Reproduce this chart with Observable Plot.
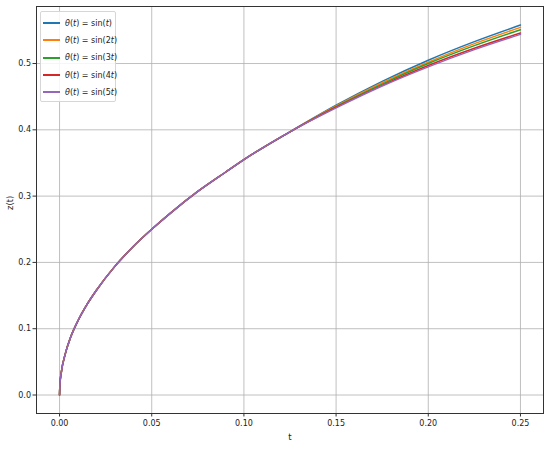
<!DOCTYPE html>
<html>
<head>
<meta charset="utf-8">
<script src="https://cdn.jsdelivr.net/npm/d3@7"></script>
<script src="https://cdn.jsdelivr.net/npm/@observablehq/plot@0.6"></script>
<style>
  body { margin: 0; background: #fff; }
  #wrap { position: relative; width: 550px; height: 449px; font-family: "DejaVu Sans", sans-serif; }
  #legend { position: absolute; left: 40px; top: 11px; width: 76px; height: 91px;
    border: 1px solid #d6d6d6; border-radius: 2px; background: rgba(255,255,255,0.85); box-sizing: border-box; }
  .row { position: absolute; left: 0; height: 12px; display: flex; align-items: center; font-size: 8px; color: #222; white-space: nowrap; }
  .sw { width: 17px; height: 2px; margin-left: 1.5px; margin-right: 5.5px; }
</style>
</head>
<body>
<div id="wrap"><div id="legend"></div></div>
<script>
// Series labels
const seriesNames = ["sin(t)", "sin(2t)", "sin(3t)", "sin(4t)", "sin(5t)"];
const seriesColors = ["#1f77b4", "#ff7f0e", "#2ca02c", "#d62728", "#9467bd"];

// Shared early part of the curves
const tShared = [0, 0.0002, 0.001, 0.003, 0.006, 0.01, 0.015, 0.02, 0.03, 0.04, 0.05, 0.06, 0.075, 0.09, 0.1, 0.125];
const zShared = [0, 0.016, 0.035, 0.061, 0.087, 0.112, 0.137, 0.158, 0.194, 0.224, 0.250, 0.274, 0.307, 0.336, 0.355, 0.397];

// Later part where curves separate slightly
const tLate = [0.15, 0.175, 0.2, 0.225, 0.25];
const zSin1 = [0.437, 0.473, 0.505, 0.533, 0.558];
const zSin2 = [0.436, 0.471, 0.502, 0.530, 0.5545];
const zSin3 = [0.435, 0.469, 0.500, 0.527, 0.551];
const zSin4 = [0.434, 0.467, 0.497, 0.523, 0.546];
const zSin5 = [0.433, 0.466, 0.495, 0.521, 0.544];
const lateValues = [zSin1, zSin2, zSin3, zSin4, zSin5];

const xTicks = [0, 0.05, 0.10, 0.15, 0.20, 0.25];
const yTicks = [0, 0.1, 0.2, 0.3, 0.4, 0.5];

const data = [];
seriesNames.forEach((s, i) => {
  tShared.forEach((t, j) => data.push({series: s, t, z: zShared[j]}));
  tLate.forEach((t, j) => data.push({series: s, t, z: lateValues[i][j]}));
});

const chart = Plot.plot({
  width: 550,
  height: 449,
  marginLeft: 36,
  marginRight: 7,
  marginTop: 6,
  marginBottom: 36,
  style: {fontFamily: "DejaVu Sans, sans-serif", fontSize: "8px", color: "#222", background: "#fff"},
  x: {domain: [-0.0125, 0.2625], label: null},
  y: {domain: [-0.0279, 0.586], label: null},
  color: {domain: seriesNames, range: seriesColors},
  marks: [
    Plot.gridX(xTicks, {stroke: "#b0b0b0", strokeOpacity: 1, strokeWidth: 0.8}),
    Plot.gridY(yTicks, {stroke: "#b0b0b0", strokeOpacity: 1, strokeWidth: 0.8}),
    Plot.line(data, {x: "t", y: "z", z: "series", stroke: "series", strokeWidth: 1.5, curve: "monotone-x"}),
    Plot.frame({stroke: "#333", strokeWidth: 1}),
    Plot.axisX({ticks: xTicks, tickFormat: d3.format(".2f"), tickSize: 3.5, tickPadding: 3, label: null, stroke: "#333"}),
    Plot.axisY({ticks: yTicks, tickFormat: d3.format(".1f"), tickSize: 3.5, tickPadding: 2, label: null, stroke: "#333"}),
    Plot.text(["t"], {frameAnchor: "bottom", dy: 26, fontSize: 8.5, fill: "#222"}),
    Plot.text(["z(t)"], {frameAnchor: "left", dx: -26, rotate: -90, fontSize: 8.5, fill: "#222"})
  ]
});
document.getElementById("wrap").prepend(chart);

const legend = document.getElementById("legend");
const rowCenters = [22.3, 39.3, 56.7, 74, 91];
seriesNames.forEach((s, i) => {
  const row = document.createElement("div");
  row.className = "row";
  row.style.top = (rowCenters[i] - 11 - 6) + "px";
  const sw = document.createElement("div");
  sw.className = "sw";
  sw.style.background = seriesColors[i];
  row.appendChild(sw);
  const label = document.createElement("span");
  const num = s.slice(4, -1).replace("t", "");
  label.innerHTML = '<i>θ</i>(<i>t</i>) = sin(' + num + '<i>t</i>)';
  row.appendChild(label);
  legend.appendChild(row);
});
</script>
</body>
</html>
